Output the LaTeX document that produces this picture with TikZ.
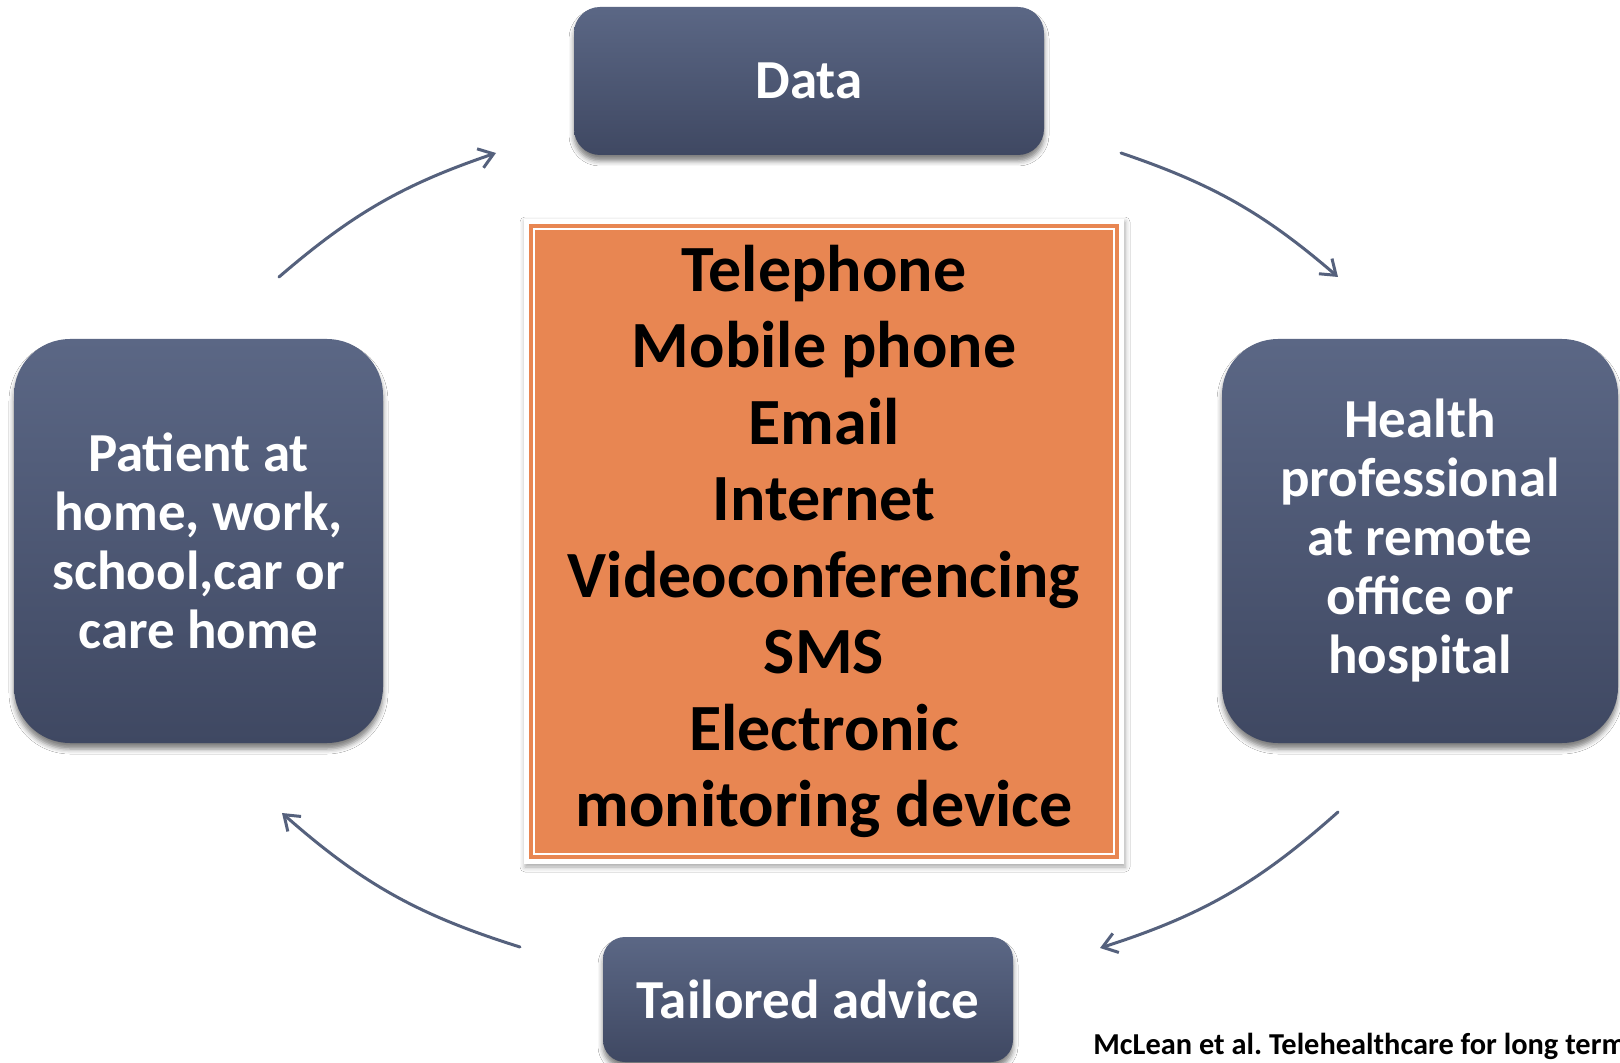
\documentclass[tikz,border=0pt]{standalone}
\usepackage{fontspec}
\setmainfont{Carlito}
\usetikzlibrary{arrows.meta,shadows.blur}

\definecolor{slatetop}{HTML}{5B6785}
\definecolor{slatebot}{HTML}{3F4862}
\definecolor{arrowcol}{HTML}{55617D}
\definecolor{orangefill}{HTML}{E88652}

\newcommand\boxfont{\fontsize{27.5pt}{29.5pt}\selectfont\bfseries}
\newcommand\mediafont{\fontsize{33pt}{38.25pt}\selectfont\bfseries}
\newcommand\citefont{\fontsize{15.2pt}{17pt}\selectfont\bfseries\frenchspacing}

\begin{document}
\begin{tikzpicture}[x=0.5pt,y=-0.5pt,
  bluebox/.style={rounded corners=#1, top color=slatetop, bottom color=slatebot,
    text=white, font=\boxfont, align=center, inner sep=0pt,
    blur shadow={shadow xshift=0pt, shadow yshift=-3pt,
      shadow blur radius=2.5pt, shadow opacity=50}},
  flow/.style={draw=arrowcol, line width=1.5pt, line cap=round,
    -{Straight Barb[length=7pt,width=10pt,line width=1.5pt]}}]

\useasboundingbox[fill=white] (0,0) rectangle (1620,1063);

% the four stages of the cycle
\node[bluebox=13pt, minimum width=235pt, minimum height=74pt] (data) at (809,81) {Data};
\node[bluebox=28pt, minimum width=184.5pt, minimum height=202pt] (patient) at (198.5,541)
  {Patient at\\home, work,\\school,car or\\care home};
\node[bluebox=28pt, minimum width=198pt, minimum height=202pt] (health) at (1420,541)
  {Health\\professional\\at remote\\office or\\hospital};
\node[bluebox=11pt, minimum width=205pt, minimum height=62.5pt] (advice) at (808,999.5)
  {Tailored advice};

% central panel listing the media
\node[fill=white, inner sep=0pt, minimum width=300pt, minimum height=322.5pt,
  blur shadow={shadow xshift=0.5pt, shadow yshift=-1.5pt,
    shadow blur radius=2.5pt, shadow opacity=35}] (frame) at (824,541.5) {};
\node[fill=orangefill, draw=orangefill, double=white, double distance=0.6pt,
  line width=2.2pt, inner sep=0pt, minimum width=290pt, minimum height=312.5pt,
  font=\mediafont, align=center] (media) at (frame.center)
  {Telephone\\Mobile phone\\Email\\Internet\\Videoconferencing\\SMS\\Electronic\\monitoring device};

% curved arrows running clockwise round the cycle
\coordinate (a1s) at (279,277);  \coordinate (a1e) at (496,153);
\coordinate (a2s) at (1121,153); \coordinate (a2e) at (1338,277);
\coordinate (a3s) at (1338,812); \coordinate (a3e) at (1100,948);
\coordinate (a4s) at (520,947);  \coordinate (a4e) at (282,813);
\draw[flow] (a1s) to[bend left=11] (a1e);
\draw[flow] (a2s) to[bend left=11] (a2e);
\draw[flow] (a3s) to[bend left=12] (a3e);
\draw[flow] (a4s) to[bend left=12] (a4e);

% source line, running off the right edge
\node[anchor=base west, font=\citefont, inner sep=0pt] (cite) at (1093,1054)
  {McLean et al. Telehealthcare for long term};
\end{tikzpicture}
\end{document}
